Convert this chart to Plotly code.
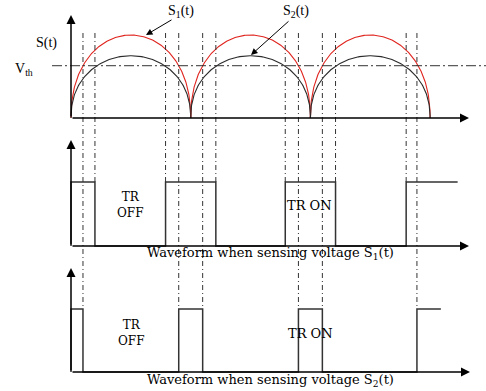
import numpy as np
import plotly.graph_objects as go

# ---------------- data (time in half-periods, amplitudes relative to S1 peak) -------------
arch_starts = [0, 1, 2]
s1_peak = 1.00          # S1(t)  (red)
s2_peak = 0.75          # S2(t)  (black)
v_th = 0.63
shape_power = 0.45
s1_cross = [0.10, 0.90, 1.10, 1.90, 2.10, 2.89]   # where S1 crosses Vth
s2_cross = [0.20, 0.79, 1.21, 1.79, 2.21, 2.80]   # where S2 crosses Vth
wave1_t = [0, 0, 0.20, 0.20, 0.79, 0.79, 1.21, 1.21, 1.79, 1.79, 2.21, 2.21, 2.80, 2.80, 3.23]
wave1_v = [0, 1, 1, 0, 0, 1, 1, 0, 0, 1, 1, 0, 0, 1, 1]
wave2_t = [0, 0, 0.10, 0.10, 0.90, 0.90, 1.10, 1.10, 1.90, 1.90, 2.10, 2.10, 2.89, 2.89, 3.09]
wave2_v = [0, 1, 1, 0, 0, 1, 1, 0, 0, 1, 1, 0, 0, 1, 1]

W, H = 486, 391
X0, XS = 71, 119.7          # pixel of t=0, pixels per half period
FONT = "Liberation Serif"
FONT2 = "DejaVu Serif"


def pp(px, py):
    return px / W, 1 - py / H


def arch(start, peak):
    th = np.linspace(0, np.pi, 200)
    u = (1 - np.cos(th)) / 2
    y = peak * np.clip(1 - (2 * u - 1) ** 2, 0, None) ** shape_power
    return start + u, y


fig = go.Figure()
for i, a in enumerate(arch_starts):
    t, y = arch(a, s1_peak)
    fig.add_trace(go.Scatter(x=t, y=y, mode="lines", line=dict(color="#e0251f", width=1.1),
                             yaxis="y", showlegend=False, hoverinfo="skip"))
    t, y = arch(a, s2_peak)
    fig.add_trace(go.Scatter(x=t, y=y, mode="lines", line=dict(color="#2a2a2a", width=1.1),
                             yaxis="y", showlegend=False, hoverinfo="skip"))

fig.add_trace(go.Scatter(x=wave1_t, y=wave1_v, mode="lines", line=dict(color="#333", width=1.5),
                         yaxis="y2", showlegend=False, hoverinfo="skip"))
fig.add_trace(go.Scatter(x=wave2_t, y=wave2_v, mode="lines", line=dict(color="#333", width=1.5),
                         yaxis="y3", showlegend=False, hoverinfo="skip"))

shapes = []
# threshold line
shapes.append(dict(type="line", xref="x", yref="y", x0=(52 - X0) / XS, x1=(W - X0) / XS,
                   y0=v_th, y1=v_th, line=dict(color="#333", width=1, dash="10px,3px,2px,3px")))
# crossing marker lines
ytop = pp(0, 33)[1]
for c in s1_cross:
    shapes.append(dict(type="line", xref="x", yref="paper", x0=c, x1=c, y0=ytop, y1=pp(0, 309)[1],
                       line=dict(color="#333", width=1, dash="5px,3px,1px,3px")))
for c in s2_cross:
    shapes.append(dict(type="line", xref="x", yref="paper", x0=c, x1=c, y0=ytop, y1=pp(0, 182)[1],
                       line=dict(color="#333", width=1, dash="5px,3px,1px,3px")))

ann = []


def arrow(hx, hy, tx, ty, w=1.5, size=1.2):
    x, y = pp(hx, hy)
    ann.append(dict(xref="paper", yref="paper", x=x, y=y, ax=tx - hx, ay=ty - hy, text="",
                    showarrow=True, arrowhead=2, arrowsize=size, arrowwidth=w,
                    arrowcolor="#000", standoff=0, startstandoff=0))


# axes
arrow(71, 15, 71, 118)
arrow(469, 118, 71, 118)
arrow(71, 140, 71, 246)
arrow(469, 246, 71, 246)
arrow(71, 268, 71, 372)
arrow(470, 372, 71, 372)
# label pointers
arrow(146, 35, 173, 19, w=1, size=1.3)
arrow(251, 55, 290, 20, w=1, size=1.3)


def text(px, py, s, size=13, family=FONT, anchor="center"):
    x, y = pp(px, py)
    ann.append(dict(xref="paper", yref="paper", x=x, y=y, text=s, showarrow=False,
                    xanchor=anchor, yanchor="middle",
                    font=dict(family=family, size=size, color="#000")))


text(46, 43, "S(t)", 14)
text(24, 69, "V<sub>th</sub>", 14)
text(166, 11, "S<sub>1</sub>(t)", 14, anchor="left")
text(281, 11, "S<sub>2</sub>(t)", 14, anchor="left")
text(130, 205, "TR<br>OFF", 12, FONT2)
text(309, 206, "TR ON", 13, FONT2)
text(270, 253, "Waveform when sensing voltage S<sub>1</sub>(t)", 13, FONT2)
text(131, 333, "TR<br>OFF", 12, FONT2)
text(310, 333, "TR ON", 13, FONT2)
text(270, 380, "Waveform when sensing voltage S<sub>2</sub>(t)", 13, FONT2)

ax_common = dict(visible=False, showgrid=False, zeroline=False, fixedrange=True)
fig.update_layout(
    width=W, height=H, margin=dict(l=0, r=0, t=0, b=0),
    paper_bgcolor="white", plot_bgcolor="white",
    xaxis=dict(range=[-X0 / XS, (W - X0) / XS], domain=[0, 1], **ax_common),
    yaxis=dict(range=[(118 - H) / 83, 118 / 83], domain=[0, 1], **ax_common),
    yaxis2=dict(range=[(246 - H) / 64, 246 / 64], overlaying="y", **ax_common),
    yaxis3=dict(range=[(372 - H) / 63, 372 / 63], overlaying="y", **ax_common),
    shapes=shapes, annotations=ann, showlegend=False,
)

fig.write_html("out.html")
